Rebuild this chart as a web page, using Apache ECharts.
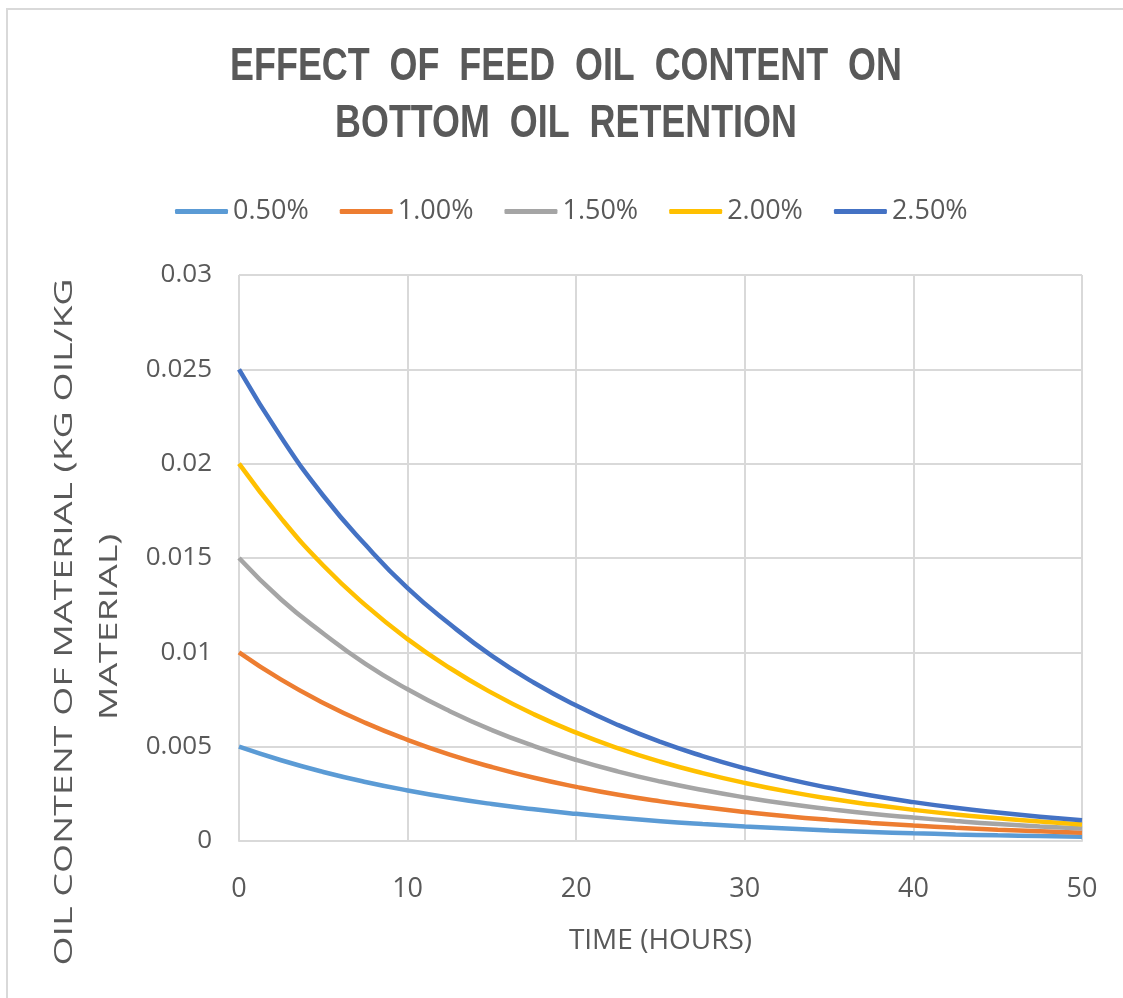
<!DOCTYPE html>
<html>
<head>
<meta charset="utf-8">
<script src="https://cdn.jsdelivr.net/npm/echarts@6/dist/echarts.min.js"></script>
<style>
html,body{margin:0;padding:0;background:#fff;}
#chart{width:1123px;height:998px;}
</style>
</head>
<body>
<div id="chart"></div>
<script>
// Time (hours)
var hours = [0, 2.5, 5, 7.5, 10, 12.5, 15, 17.5, 20, 22.5, 25, 27.5, 30, 32.5, 35, 37.5, 40, 42.5, 45, 47.5, 50];
// Series names (feed oil content)
var seriesNames = ['0.50%', '1.00%', '1.50%', '2.00%', '2.50%'];
// Oil content of material (kg oil / kg material)
var oil050 = [0.0050, 0.00428, 0.00366, 0.00313, 0.00268, 0.00229, 0.00196, 0.00168, 0.00144, 0.00123, 0.00105, 0.00090, 0.00077, 0.00066, 0.00056, 0.00048, 0.00041, 0.00035, 0.00030, 0.00026, 0.00022];
var oil100 = [0.0100, 0.00855, 0.00732, 0.00626, 0.00536, 0.00458, 0.00392, 0.00335, 0.00287, 0.00245, 0.00210, 0.00180, 0.00154, 0.00131, 0.00112, 0.00096, 0.00082, 0.00070, 0.00060, 0.00052, 0.00044];
var oil150 = [0.0150, 0.0128, 0.0110, 0.00939, 0.00804, 0.00688, 0.00588, 0.00503, 0.00430, 0.00368, 0.00315, 0.00270, 0.00231, 0.00197, 0.00169, 0.00144, 0.00124, 0.00106, 0.00090, 0.00077, 0.00066];
var oil200 = [0.0200, 0.0171, 0.0146, 0.0125, 0.0107, 0.00917, 0.00785, 0.00671, 0.00574, 0.00491, 0.00420, 0.00360, 0.00308, 0.00263, 0.00225, 0.00193, 0.00165, 0.00141, 0.00121, 0.00103, 0.00088];
var oil250 = [0.0250, 0.0214, 0.0183, 0.0157, 0.0134, 0.0115, 0.00981, 0.00839, 0.00718, 0.00614, 0.00525, 0.00450, 0.00385, 0.00329, 0.00282, 0.00241, 0.00206, 0.00176, 0.00151, 0.00129, 0.00110];
var seriesValues = [oil050, oil100, oil150, oil200, oil250];
var colors = ['#5B9BD5', '#ED7D31', '#A5A5A5', '#FFC000', '#4472C4'];

var chart = echarts.init(document.getElementById('chart'));
var txt = '#595959';
var titleFont = 'Liberation Sans, Arial, sans-serif';
var lblFont = 'Open Sans, Liberation Sans, sans-serif';

function pairs(vals) {
  return hours.map(function (h, i) { return [h, vals[i]]; });
}

var series = seriesNames.map(function (name, k) {
  return {
    name: name,
    type: 'line',
    data: pairs(seriesValues[k]),
    smooth: true,
    showSymbol: false,
    symbol: 'none',
    lineStyle: { width: 4.5, color: colors[k] },
    itemStyle: { color: colors[k] },
    z: 2 + k
  };
});

var option = {
  backgroundColor: '#fff',
  animation: false,
  legend: {
    data: seriesNames,
    left: 170,
    top: 193,
    itemWidth: 53,
    itemHeight: 5,
    itemGap: 31,
    icon: 'roundRect',
    textStyle: { fontFamily: lblFont, fontSize: 27, color: txt }
  },
  grid: { left: 239, top: 275, width: 843, height: 566, containLabel: false },
  xAxis: {
    type: 'value',
    min: 0,
    max: 50,
    interval: 10,
    name: 'TIME (HOURS)',
    nameLocation: 'middle',
    nameGap: 86,
    nameTextStyle: { fontFamily: lblFont, fontSize: 28, color: txt },
    axisLine: { show: true, lineStyle: { color: '#D9D9D9', width: 2 } },
    axisTick: { show: false },
    axisLabel: { fontFamily: lblFont, fontSize: 27, color: txt, margin: 35 },
    splitLine: { show: true, lineStyle: { color: '#D9D9D9', width: 2 } }
  },
  yAxis: {
    type: 'value',
    min: 0,
    max: 0.03,
    interval: 0.005,
    axisLine: { show: false },
    axisTick: { show: false },
    axisLabel: { fontFamily: lblFont, fontSize: 26, color: txt, margin: 27 },
    splitLine: { show: true, lineStyle: { color: '#D9D9D9', width: 2 } }
  },
  graphic: [
    {
      type: 'rect',
      shape: { x: 7, y: 9, width: 1140, height: 1020 },
      style: { fill: 'none', stroke: '#D9D9D9', lineWidth: 2 },
      silent: true
    },
    {
      type: 'text',
      x: 566,
      y: 67,
      scaleX: 0.78,
      style: {
        text: 'EFFECT  OF  FEED  OIL  CONTENT  ON',
        fontFamily: titleFont,
        fontWeight: 'bold',
        fontSize: 46,
        fill: txt,
        align: 'center',
        verticalAlign: 'middle'
      }
    },
    {
      type: 'text',
      x: 566,
      y: 124,
      scaleX: 0.78,
      style: {
        text: 'BOTTOM  OIL  RETENTION',
        fontFamily: titleFont,
        fontWeight: 'bold',
        fontSize: 46,
        fill: txt,
        align: 'center',
        verticalAlign: 'middle'
      }
    },
    {
      type: 'text',
      x: 65,
      y: 622,
      rotation: Math.PI / 2,
      scaleX: 1.44,
      style: {
        text: 'OIL CONTENT OF MATERIAL (KG OIL/KG',
        fontFamily: lblFont,
        fontSize: 26,
        fill: txt,
        align: 'center',
        verticalAlign: 'middle'
      }
    },
    {
      type: 'text',
      x: 110,
      y: 627,
      rotation: Math.PI / 2,
      scaleX: 1.44,
      style: {
        text: 'MATERIAL)',
        fontFamily: lblFont,
        fontSize: 26,
        fill: txt,
        align: 'center',
        verticalAlign: 'middle'
      }
    }
  ],
  series: series
};
chart.setOption(option);
</script>
</body>
</html>
